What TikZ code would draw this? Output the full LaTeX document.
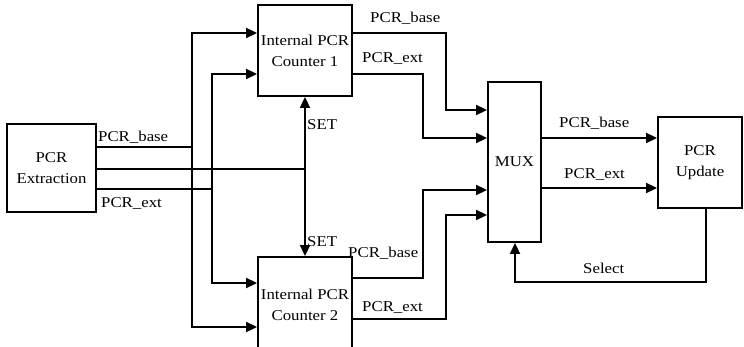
\documentclass[tikz,border=0pt]{standalone}
\usepackage{fontspec}
\setmainfont{Liberation Serif}[FakeStretch=1.12]
\usetikzlibrary{arrows.meta,calc}
\tikzset{
  blk/.style={draw, line width=1.9pt, inner sep=0pt, align=center, font=\fontsize{15}{21}\selectfont},
  wire/.style={line width=1.9pt},
  arr/.style={wire, -{Triangle[length=11pt,width=10pt]}},
  lbl/.style={anchor=base west, inner sep=0pt, font=\fontsize{15}{18}\selectfont}
}
\begin{document}
\begin{tikzpicture}[x=1pt,y=-1pt]
\useasboundingbox (0,0) rectangle (744,347);
% blocks
\node[blk, minimum width=89pt, minimum height=88pt] (ext) at (51.5,168) {PCR\\Extraction};
\node[blk, minimum width=94pt, minimum height=91pt] (c1) at (305,50.5) {Internal PCR\\Counter 1};
\node[blk, minimum width=94pt, minimum height=95pt] (c2) at (305,304.5) {Internal PCR\\Counter 2};
\node[blk, minimum width=53pt, minimum height=160pt] (mux) at (514.5,162) {MUX};
\node[blk, minimum width=84pt, minimum height=91pt] (upd) at (700,162.5) {PCR\\Update};
% extraction outputs
\draw[arr] (ext.east |- 0,147) -- (192,147) |- (c1.west |- 0,33);
\draw[arr] (192,147) |- (c2.west |- 0,327);
\draw[arr] (ext.east |- 0,189) -- (212,189) |- (c1.west |- 0,74);
\draw[arr] (212,189) |- (c2.west |- 0,283);
\draw[wire] (ext.east |- 0,169) -- (305,169);
\draw[arr] (305,169) -- (c1.south);
\draw[arr] (305,169) -- (c2.north);
% counters to mux
\draw[arr] (c1.east |- 0,33) -- (446,33) |- (mux.west |- 0,110);
\draw[arr] (c1.east |- 0,74) -- (423,74) |- (mux.west |- 0,138);
\draw[arr] (c2.east |- 0,278) -- (423,278) |- (mux.west |- 0,190);
\draw[arr] (c2.east |- 0,319) -- (446,319) |- (mux.west |- 0,215);
% mux to update
\draw[arr] (mux.east |- 0,138) -- (upd.west |- 0,138);
\draw[arr] (mux.east |- 0,188) -- (upd.west |- 0,188);
% select
\draw[arr] (upd.south -| 706,0) |- (515,282) -- (mux.south -| 515,0);
% labels
\node[lbl] (l1) at (98,142) {PCR\_base};
\node[lbl] (l2) at (101,208) {PCR\_ext};
\node[lbl] (l3) at (370,23) {PCR\_base};
\node[lbl] (l4) at (362,63) {PCR\_ext};
\node[lbl] (l5) at (348,258) {PCR\_base};
\node[lbl] (l6) at (362,312) {PCR\_ext};
\node[lbl] (l7) at (307,130) {SET};
\node[lbl] (l8) at (307,247) {SET};
\node[lbl] (l9) at (559,128) {PCR\_base};
\node[lbl] (l10) at (564,179) {PCR\_ext};
\node[lbl] (l11) at (583,273) {Select};
\end{tikzpicture}
\end{document}
